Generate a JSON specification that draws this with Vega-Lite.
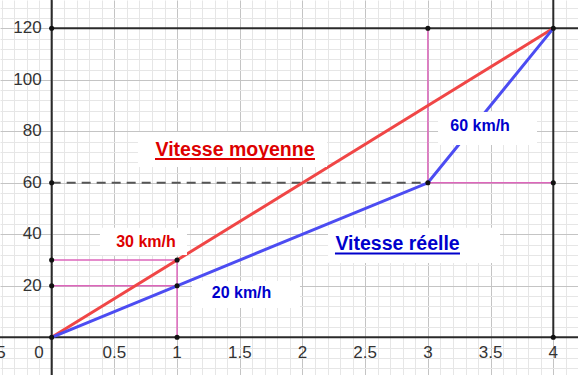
{
  "$schema": "https://vega.github.io/schema/vega-lite/v6.json",
  "width": 578,
  "height": 375,
  "autosize": {"type": "none"},
  "padding": 0,
  "background": "white",
  "config": {
    "view": {"stroke": null},
    "axis": {"labels": false, "ticks": false, "domain": false, "title": null, "grid": false}
  },
  "datasets": {
    "one": [{"x": 0, "y": 0}],
    "segs": [
      {"k": "pink", "x": 0, "y": 30, "x2": 1, "y2": 30},
      {"k": "pink", "x": 0, "y": 20, "x2": 1, "y2": 20},
      {"k": "pink", "x": 1, "y": 0, "x2": 1, "y2": 30},
      {"k": "pink", "x": 3, "y": 60, "x2": 3, "y2": 120},
      {"k": "pink", "x": 3, "y": 60, "x2": 4, "y2": 60},
      {"k": "dash", "x": 0, "y": 60, "x2": 3, "y2": 60},
      {"k": "black", "x": -0.45, "y": 0, "x2": 4.25, "y2": 0},
      {"k": "black", "x": 0, "y": -16, "x2": 0, "y2": 132},
      {"k": "black", "x": 0, "y": 120, "x2": 4.25, "y2": 120},
      {"k": "black", "x": 4, "y": 0, "x2": 4, "y2": 132}
    ],
    "paths": [
      {"s": "m", "o": 0, "x": 0, "y": 0},
      {"s": "m", "o": 1, "x": 4, "y": 120},
      {"s": "r", "o": 0, "x": 0, "y": 0},
      {"s": "r", "o": 1, "x": 1, "y": 20},
      {"s": "r", "o": 2, "x": 3, "y": 60},
      {"s": "r", "o": 3, "x": 4, "y": 120}
    ],
    "pts": [
      {"x": 0, "y": 0}, {"x": 1, "y": 0}, {"x": 4, "y": 0},
      {"x": 0, "y": 20}, {"x": 1, "y": 20},
      {"x": 0, "y": 30}, {"x": 1, "y": 30},
      {"x": 0, "y": 60}, {"x": 3, "y": 60}, {"x": 4, "y": 60},
      {"x": 0, "y": 120}, {"x": 3, "y": 120}, {"x": 4, "y": 120}
    ],
    "boxes": [
      {"x": 0.688, "x2": 2.196, "y": 79.7, "y2": 66.1},
      {"x": 2.204, "x2": 3.575, "y": 42.5, "y2": 28.9},
      {"x": 0.385, "x2": 1.079, "y": 42.5, "y2": 32.0},
      {"x": 1.119, "x2": 1.98, "y": 21.9, "y2": 11.4},
      {"x": 3.081, "x2": 3.87, "y": 87.5, "y2": 74.7}
    ],
    "ann": [
      {"t": "Vitesse moyenne", "s": "m", "g": "big", "x": 1.462, "y": 70.5},
      {"t": "Vitesse réelle", "s": "r", "g": "big", "x": 2.758, "y": 33.9},
      {"t": "30 km/h", "s": "m", "g": "small", "x": 0.752, "y": 34.96},
      {"t": "20 km/h", "s": "r", "g": "small", "x": 1.514, "y": 15.27},
      {"t": "60 km/h", "s": "r", "g": "small", "x": 3.416, "y": 80.24}
    ],
    "under": [
      {"s": "m", "x": 0.824, "x2": 2.1, "y": 69.25},
      {"s": "r", "x": 2.259, "x2": 3.256, "y": 32.55}
    ],
    "ticks": [
      {"a": "x", "t": "−0.5", "x": -0.5, "y": 0},
      {"a": "x", "t": "0.5", "x": 0.5, "y": 0},
      {"a": "x", "t": "1", "x": 1, "y": 0},
      {"a": "x", "t": "1.5", "x": 1.5, "y": 0},
      {"a": "x", "t": "2", "x": 2, "y": 0},
      {"a": "x", "t": "2.5", "x": 2.5, "y": 0},
      {"a": "x", "t": "3", "x": 3, "y": 0},
      {"a": "x", "t": "3.5", "x": 3.5, "y": 0},
      {"a": "x", "t": "4", "x": 4, "y": 0},
      {"a": "o", "t": "0", "x": 0, "y": 0},
      {"a": "y", "t": "20", "x": 0, "y": 20},
      {"a": "y", "t": "40", "x": 0, "y": 40},
      {"a": "y", "t": "60", "x": 0, "y": 60},
      {"a": "y", "t": "80", "x": 0, "y": 80},
      {"a": "y", "t": "100", "x": 0, "y": 100},
      {"a": "y", "t": "120", "x": 0, "y": 120}
    ]
  },
  "encoding": {
    "x": {"field": "x", "type": "quantitative", "scale": {"domain": [-0.412, 4.197], "nice": false, "zero": false}, "axis": null},
    "y": {"field": "y", "type": "quantitative", "scale": {"domain": [-14.64, 131.0], "nice": false, "zero": false}, "axis": null}
  },
  "resolve": {"axis": {"x": "independent", "y": "independent"}},
  "layer": [
    {
      "data": {"name": "one"},
      "mark": {"type": "point", "opacity": 0},
      "encoding": {
        "x": {"field": "x", "type": "quantitative", "scale": {"domain": [-0.412, 4.197], "nice": false, "zero": false},
          "axis": {"grid": true, "gridColor": "#e6e6e6", "gridWidth": 1,
            "values": [-0.4,-0.3,-0.2,-0.1,0.1,0.2,0.3,0.4,0.6,0.7,0.8,0.9,1.1,1.2,1.3,1.4,1.6,1.7,1.8,1.9,2.1,2.2,2.3,2.4,2.6,2.7,2.8,2.9,3.1,3.2,3.3,3.4,3.6,3.7,3.8,3.9,4.1]}},
        "y": {"field": "y", "type": "quantitative", "scale": {"domain": [-14.64, 131.0], "nice": false, "zero": false},
          "axis": {"grid": true, "gridColor": "#e6e6e6", "gridWidth": 1,
            "values": [-12,-8,-4,4,8,12,16,24,28,32,36,44,48,52,56,64,68,72,76,84,88,92,96,104,108,112,116,124,128]}}
      }
    },
    {
      "data": {"name": "one"},
      "mark": {"type": "point", "opacity": 0},
      "encoding": {
        "x": {"field": "x", "type": "quantitative", "scale": {"domain": [-0.412, 4.197], "nice": false, "zero": false},
          "axis": {"grid": true, "gridColor": "#c4c4c4", "gridWidth": 1, "values": [0, 0.5, 1, 1.5, 2, 2.5, 3, 3.5, 4]}},
        "y": {"field": "y", "type": "quantitative", "scale": {"domain": [-14.64, 131.0], "nice": false, "zero": false},
          "axis": {"grid": true, "gridColor": "#c4c4c4", "gridWidth": 1, "values": [0, 20, 40, 60, 80, 100, 120]}}
      }
    },
    {
      "data": {"name": "segs"},
      "transform": [{"filter": "datum.k == 'pink'"}],
      "mark": {"type": "rule", "color": "#dd66bb", "strokeWidth": 1.5},
      "encoding": {"x2": {"field": "x2"}, "y2": {"field": "y2"}}
    },
    {
      "data": {"name": "segs"},
      "transform": [{"filter": "datum.k == 'dash'"}],
      "mark": {"type": "rule", "color": "#555555", "strokeWidth": 2, "strokeDash": [9, 6]},
      "encoding": {"x2": {"field": "x2"}, "y2": {"field": "y2"}}
    },
    {
      "data": {"name": "segs"},
      "transform": [{"filter": "datum.k == 'black'"}],
      "mark": {"type": "rule", "color": "#2a2a2a", "strokeWidth": 2},
      "encoding": {"x2": {"field": "x2"}, "y2": {"field": "y2"}}
    },
    {
      "data": {"name": "paths"},
      "transform": [{"filter": "datum.s == 'm'"}],
      "mark": {"type": "line", "color": "#f04646", "strokeWidth": 3},
      "encoding": {"order": {"field": "o", "type": "quantitative"}}
    },
    {
      "data": {"name": "paths"},
      "transform": [{"filter": "datum.s == 'r'"}],
      "mark": {"type": "line", "color": "#4c4cf2", "strokeWidth": 3},
      "encoding": {"order": {"field": "o", "type": "quantitative"}}
    },
    {
      "data": {"name": "boxes"},
      "mark": {"type": "rect", "color": "white", "opacity": 1},
      "encoding": {"x2": {"field": "x2"}, "y2": {"field": "y2"}}
    },
    {
      "data": {"name": "pts"},
      "mark": {"type": "circle", "color": "#111111", "size": 26, "opacity": 1},
      "encoding": {}
    },
    {
      "data": {"name": "under"},
      "mark": {"type": "rule", "strokeWidth": 2},
      "encoding": {
        "x2": {"field": "x2"},
        "color": {"field": "s", "type": "nominal", "scale": {"domain": ["m", "r"], "range": ["#dd0000", "#0000cc"]}, "legend": null}
      }
    },
    {
      "data": {"name": "ann"},
      "transform": [{"filter": "datum.g == 'big'"}],
      "mark": {"type": "text", "font": "Liberation Sans", "fontWeight": "bold", "fontSize": 19.5, "align": "center", "baseline": "alphabetic"},
      "encoding": {
        "text": {"field": "t"},
        "color": {"field": "s", "type": "nominal", "scale": {"domain": ["m", "r"], "range": ["#dd0000", "#0000cc"]}, "legend": null}
      }
    },
    {
      "data": {"name": "ann"},
      "transform": [{"filter": "datum.g == 'small'"}],
      "mark": {"type": "text", "font": "Liberation Sans", "fontWeight": "bold", "fontSize": 16, "align": "center", "baseline": "alphabetic"},
      "encoding": {
        "text": {"field": "t"},
        "color": {"field": "s", "type": "nominal", "scale": {"domain": ["m", "r"], "range": ["#dd0000", "#0000cc"]}, "legend": null}
      }
    },
    {
      "data": {"name": "ticks"},
      "transform": [{"filter": "datum.a == 'x'"}],
      "mark": {"type": "text", "font": "Liberation Sans", "fontSize": 17, "color": "#333333", "align": "center", "baseline": "middle", "dy": 16},
      "encoding": {"text": {"field": "t"}}
    },
    {
      "data": {"name": "ticks"},
      "transform": [{"filter": "datum.a == 'y'"}],
      "mark": {"type": "text", "font": "Liberation Sans", "fontSize": 17, "color": "#333333", "align": "right", "baseline": "middle", "dx": -10},
      "encoding": {"text": {"field": "t"}}
    },
    {
      "data": {"name": "ticks"},
      "transform": [{"filter": "datum.a == 'o'"}],
      "mark": {"type": "text", "font": "Liberation Sans", "fontSize": 17, "color": "#333333", "align": "right", "baseline": "middle", "dx": -8, "dy": 16},
      "encoding": {"text": {"field": "t"}}
    }
  ]
}
